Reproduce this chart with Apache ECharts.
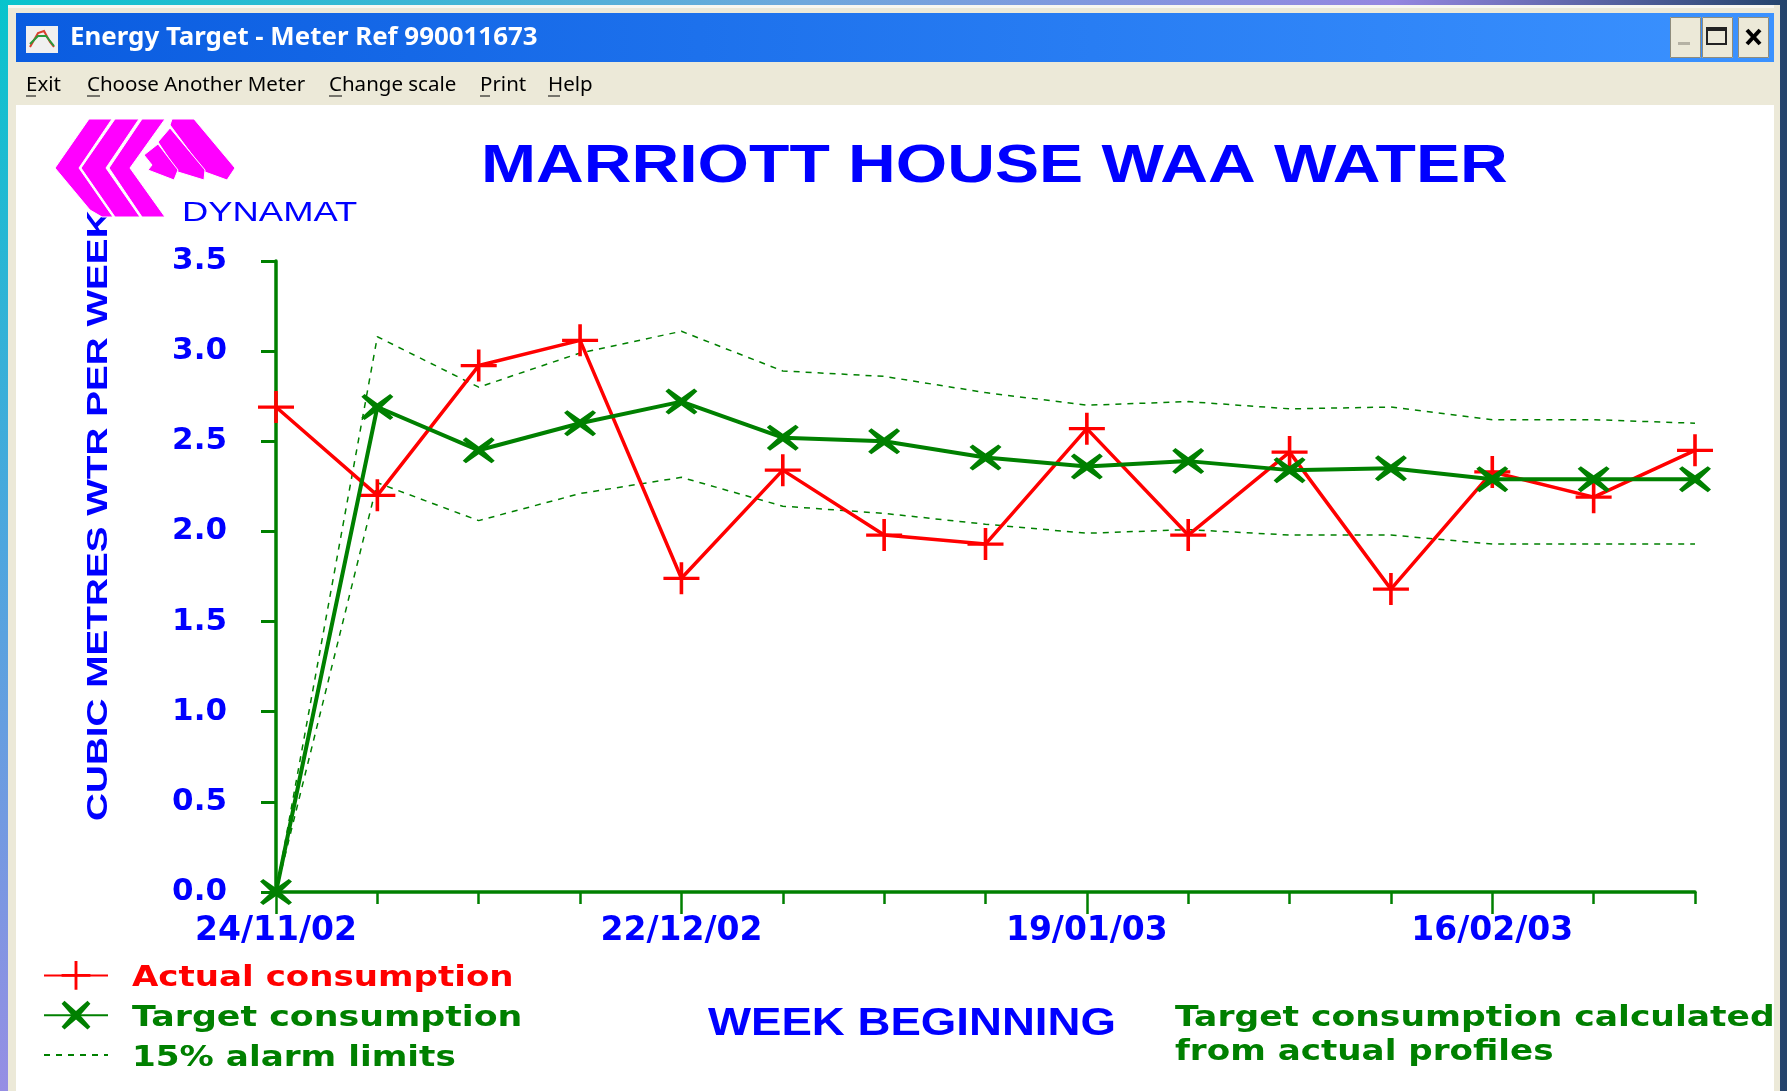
<!DOCTYPE html>
<html>
<head>
<meta charset="utf-8">
<title>Marriott House WAA Water</title>
<style>
  html, body { margin: 0; padding: 0; background: #fff; }
  #chart { width: 1787px; height: 1091px; }
</style>
<script src="https://cdn.jsdelivr.net/npm/echarts@6/dist/echarts.min.js"></script>
</head>
<body>
<div id="chart"></div>
<script>
const weeks = ['24/11/02', '01/12/02', '08/12/02', '15/12/02', '22/12/02', '29/12/02', '05/01/03', '12/01/03',
  '19/01/03', '26/01/03', '02/02/03', '09/02/03', '16/02/03', '23/02/03', '02/03/03'];
const actual = [2.69, 2.2, 2.92, 3.06, 1.74, 2.34, 1.98, 1.93, 2.57, 1.98, 2.44, 1.68, 2.33, 2.19, 2.45];
const target = [0, 2.69, 2.45, 2.6, 2.72, 2.52, 2.5, 2.41, 2.36, 2.39, 2.34, 2.35, 2.29, 2.29, 2.29];
const upperLimit = [0, 3.08, 2.8, 2.99, 3.11, 2.89, 2.86, 2.77, 2.7, 2.72, 2.68, 2.69, 2.62, 2.62, 2.6];
const lowerLimit = [0, 2.27, 2.06, 2.21, 2.3, 2.14, 2.1, 2.04, 1.99, 2.01, 1.98, 1.98, 1.93, 1.93, 1.93];

const RED = '#ff0000';
const GREEN = '#008000';
const BLUE = '#0000ff';
const MAGENTA = '#ff00ff';
const BOLD_WIDE = '"DejaVu Sans"';

const PLUS = 'path://M9 0h2v9h9v2h-9v9h-2v-9h-9v-2h9z';
const CROSS = 'path://M0 2L2 0L10 7L18 0L20 2L13 10L20 18L18 20L10 13L2 20L0 18L7 10Z';

// window furniture
function box(x, y, width, height, fill, z) {
  return { type: 'rect', z: z || 0, shape: { x, y, width, height }, style: { fill }, silent: true };
}
function label(text, x, y, style, extra) {
  return Object.assign({ type: 'text', x, y, silent: true, z: 5, style: Object.assign({ text, verticalAlign: 'middle' }, style) }, extra);
}
function menu(text, x, underlineWidth) {
  return [
    label(text, x, 85, { fill: '#000', font: '20.5px "Noto Sans"' }),
    { type: 'line', z: 5, silent: true, shape: { x1: x, y1: 96, x2: x + underlineWidth, y2: 96 }, style: { stroke: '#000', lineWidth: 1 } }
  ];
}
function button(x, w) {
  return [
    box(x, 17, w, 41, '#ece9d8', 3),
    { type: 'rect', z: 3, silent: true, shape: { x: x + 0.5, y: 17.5, width: w - 1, height: 40 }, style: { fill: 'none', stroke: '#8f8c7c', lineWidth: 1 } }
  ];
}
function logoPart(points) {
  return { type: 'polygon', z: 20, silent: true, shape: { points }, style: { fill: MAGENTA, stroke: '#fff', lineWidth: 1 } };
}
function legendText(text, y, fill, stretch) {
  return label(text, 132, y, { fill, font: 'bold 29px ' + BOLD_WIDE }, { scaleX: stretch });
}

const furniture = [
  { type: 'rect', z: 0, silent: true, shape: { x: 0, y: 0, width: 1787, height: 1091 },
    style: { fill: { type: 'linear', x: 0, y: 0, x2: 1, y2: 0, colorStops: [
      { offset: 0, color: '#08c4cc' }, { offset: 0.45, color: '#6fa8dc' }, { offset: 0.78, color: '#9486e0' }, { offset: 1, color: '#24446c' }] } } },
  { type: 'rect', z: 0, silent: true, shape: { x: 0, y: 0, width: 8, height: 1091 },
    style: { fill: { type: 'linear', x: 0, y: 0, x2: 0, y2: 1, colorStops: [
      { offset: 0, color: '#08c4cc' }, { offset: 0.5, color: '#4ea6de' }, { offset: 1, color: '#968ee4' }] } } },
  box(8, 5, 1772, 1086, '#ece9d8', 1),
  box(8, 5, 1766, 3, '#f8f7f0', 1),
  { type: 'rect', z: 2, silent: true, shape: { x: 16, y: 13, width: 1758, height: 49 },
    style: { fill: { type: 'linear', x: 0, y: 0, x2: 1, y2: 0, colorStops: [
      { offset: 0, color: '#0a5ce0' }, { offset: 1, color: '#3b92ff' }] } } },
  box(16, 105, 1758, 986, '#fff', 2),
  box(26, 26, 32, 27, '#f0f0f0', 3),
  { type: 'polyline', z: 4, silent: true, shape: { points: [[30, 47], [38, 33], [44, 31], [50, 42], [54, 47]] }, style: { stroke: '#d8402c', lineWidth: 2, fill: 'none' } },
  { type: 'polyline', z: 4, silent: true, shape: { points: [[30, 44], [38, 36], [46, 36], [54, 46]] }, style: { stroke: '#2a9a3a', lineWidth: 2, fill: 'none' } },
  label('Energy Target - Meter Ref 990011673', 70, 38, { fill: '#fff', font: 'bold 25px "Noto Sans"' }, { scaleX: 1.035 }),
  ...menu('Exit', 26, 10),
  ...menu('Choose Another Meter', 87, 13),
  ...menu('Change scale', 329, 13),
  ...menu('Print', 480, 10),
  ...menu('Help', 548, 12),
  ...button(1670, 31),
  ...button(1702, 31),
  ...button(1738, 31),
  box(1678, 42, 12, 3, '#b5b2a4', 4),
  { type: 'rect', z: 4, silent: true, shape: { x: 1707, y: 29, width: 19, height: 15 }, style: { fill: 'none', stroke: '#222', lineWidth: 2 } },
  box(1706, 27, 21, 4, '#222', 4),
  { type: 'line', z: 4, silent: true, shape: { x1: 1747, y1: 30, x2: 1760, y2: 44 }, style: { stroke: '#000', lineWidth: 4 } },
  { type: 'line', z: 4, silent: true, shape: { x1: 1760, y1: 30, x2: 1747, y2: 44 }, style: { stroke: '#000', lineWidth: 4 } },
  // axis titles are stretched like the original, so they are drawn here
  label('CUBIC METRES WTR PER WEEK', 99, 821, { fill: BLUE, font: 'bold 30px "Liberation Sans"' }, { rotation: Math.PI / 2, scaleX: 1.29 }),
  label('WEEK BEGINNING', 708, 1025, { fill: BLUE, font: 'bold 38px "Liberation Sans"' }, { scaleX: 1.2 }),
  // Dynamat logo, sits over the top of the rotated axis name
  logoPart([[55, 168], [89, 119], [112, 119], [79, 168], [113, 217], [102, 217], [90, 210]]),
  logoPart([[81, 168], [115, 119], [139, 119], [106, 168], [140, 217], [115, 217]]),
  logoPart([[109, 168], [142, 119], [165, 119], [130, 168], [165, 217], [142, 217]]),
  logoPart([[172, 119], [194, 119], [235, 168], [227, 180], [205, 172], [170, 125]]),
  logoPart([[170, 128], [205, 170], [204, 180], [178, 172], [158, 142]]),
  logoPart([[158, 144], [178, 170], [174, 180], [148, 170], [152, 165], [144, 155]]),
  label('DYNAMAT', 182, 213, { fill: BLUE, font: '28px "Liberation Sans"' }, { scaleX: 1.3 }),
  label('MARRIOTT HOUSE WAA WATER', 481, 167, { fill: BLUE, font: 'bold 53px "Liberation Sans"' }, { scaleX: 1.247 }),
  legendText('Actual consumption', 978, RED, 1.175),
  legendText('Target consumption', 1018, GREEN, 1.2),
  legendText('15% alarm limits', 1058, GREEN, 1.18),
  label('Target consumption calculated', 1175, 1019, { fill: GREEN, font: 'bold 28px ' + BOLD_WIDE }, { scaleX: 1.233 }),
  label('from actual profiles', 1175, 1053, { fill: GREEN, font: 'bold 28px ' + BOLD_WIDE }, { scaleX: 1.22 })
];

const chart = echarts.init(document.getElementById('chart'), null, { renderer: 'canvas' });

chart.setOption({
  animation: false,
  backgroundColor: 'transparent',
  graphic: { elements: furniture },
  grid: { left: 276, right: 92, top: 261, bottom: 199 },
  legend: {
    left: 43,
    top: 961,
    padding: 0,
    orient: 'vertical',
    itemWidth: 64,
    itemHeight: 36,
    itemGap: 11,
    selectedMode: false,
    formatter: () => ' ',
    data: [
      { name: 'Actual consumption' },
      { name: 'Target consumption' },
      { name: '15% alarm limits', itemStyle: { opacity: 0 } }
    ]
  },
  xAxis: [
    {
      type: 'category',
      z: 6,
      data: weeks,
      boundaryGap: false,
      axisLine: { lineStyle: { color: GREEN, width: 3.5 } },
      axisTick: { interval: 0, length: 12, lineStyle: { color: GREEN, width: 2.5 } },
      axisLabel: { show: false }
    },
    {
      type: 'category',
      z: 6,
      data: weeks,
      boundaryGap: false,
      position: 'bottom',
      axisLine: { show: false },
      axisTick: { interval: 3, length: 22, lineStyle: { color: GREEN, width: 2.5 } },
      axisLabel: { interval: 3, margin: 23, color: BLUE, fontFamily: BOLD_WIDE, fontWeight: 'bold', fontSize: 33 }
    }
  ],
  yAxis: {
    type: 'value',
    z: 6,
    min: 0,
    max: 3.5,
    interval: 0.5,
    splitLine: { show: false },
    axisLine: { show: true, lineStyle: { color: GREEN, width: 3.5 } },
    axisTick: { show: true, length: 15, lineStyle: { color: GREEN, width: 3 } },
    axisLabel: { margin: 49, padding: [8, 0, 0, 0], color: BLUE, fontFamily: BOLD_WIDE, fontWeight: 'bold', fontSize: 31, formatter: (v) => v.toFixed(1) }
  },
  series: [
    { name: '15% alarm limits', type: 'line', data: upperLimit, symbol: 'none', z: 12,
      lineStyle: { color: GREEN, width: 1.5, type: [6, 6] }, itemStyle: { color: GREEN } },
    { name: '15% alarm limits', type: 'line', data: lowerLimit, symbol: 'none', z: 12,
      lineStyle: { color: GREEN, width: 1.5, type: [6, 6] }, itemStyle: { color: GREEN } },
    { name: 'Actual consumption', type: 'line', data: actual, symbol: PLUS, symbolSize: [36, 32], z: 13,
      lineStyle: { color: RED, width: 3.5 }, itemStyle: { color: RED } },
    { name: 'Target consumption', type: 'line', data: target, symbol: CROSS, symbolSize: [32, 26], z: 14,
      lineStyle: { color: GREEN, width: 4 }, itemStyle: { color: GREEN } }
  ]
});
</script>
</body>
</html>
